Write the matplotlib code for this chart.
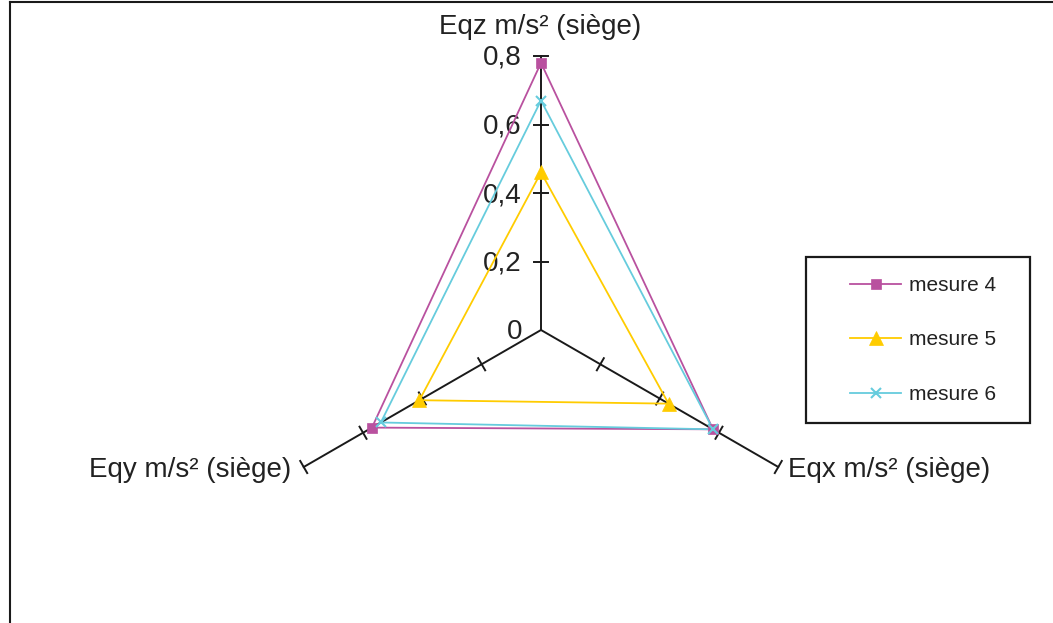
import numpy as np
import matplotlib
matplotlib.use("Agg")
import matplotlib.pyplot as plt
from matplotlib.lines import Line2D
from matplotlib.patches import Rectangle

plt.rcParams['font.family'] = ['Liberation Sans', 'DejaVu Sans']

axes_labels = ["Eqz m/s² (siège)", "Eqx m/s² (siège)", "Eqy m/s² (siège)"]
series_names = ["mesure 4", "mesure 5", "mesure 6"]
mesure4 = [0.78, 0.58, 0.57]
mesure5 = [0.46, 0.43, 0.41]
mesure6 = [0.67, 0.58, 0.54]
r_ticks = [0.0, 0.2, 0.4, 0.6, 0.8]
r_tick_labels = ["0", "0,2", "0,4", "0,6", "0,8"]
r_max = 0.8

colors = ["#B9519F", "#FFCC00", "#66CCDD"]
markers = ["s", "^", "x"]

W, H = 1053, 623
fig = plt.figure(figsize=(W / 100, H / 100), dpi=100)
ax = fig.add_axes([0, 0, 1, 1])
cx, cy = 541, 330          # centre in pixels (from top)
scale = 274 / r_max        # pixels per unit
ax.set_xlim(-cx / scale, (W - cx) / scale)
ax.set_ylim(-(H - cy) / scale, cy / scale)
ax.axis("off")

# angles: clockwise from north
angles = np.deg2rad([0, 120, 240])
ux = np.sin(angles)
uy = np.cos(angles)

def xy(vals):
    v = np.asarray(vals)
    return v * ux, v * uy

# spokes
tick_half = 7 / scale
for k in range(3):
    ax.plot([0, r_max * ux[k]], [0, r_max * uy[k]], color="#1a1a1a", lw=1.4, zorder=1)
    px, py = uy[k], -ux[k]  # perpendicular
    for t in r_ticks[1:]:
        x0, y0 = t * ux[k], t * uy[k]
        ax.plot([x0 - px * tick_half, x0 + px * tick_half],
                [y0 - py * tick_half, y0 + py * tick_half],
                color="#1a1a1a", lw=1.4, zorder=1)

# radial tick labels on top axis
for t, lab in zip(r_ticks, r_tick_labels):
    ax.text(-19 / scale, t - 2 / scale, lab, ha="right", va="center", fontsize=20,
            color="#222222")

# axis labels
ax.text(-1 / scale, (cy - 27) / scale, axes_labels[0], ha="center", va="center",
        fontsize=20, color="#222222")
ax.text((788 - cx) / scale, (cy - 470) / scale, axes_labels[1], ha="left", va="center",
        fontsize=20, color="#222222")
ax.text((291 - cx) / scale, (cy - 470) / scale, axes_labels[2], ha="right", va="center",
        fontsize=20, color="#222222")

series = [mesure4, mesure5, mesure6]
msizes = [7.5, 10, 7]
for vals, c, m, ms, name in zip(series, colors, markers, msizes, series_names):
    x, y = xy(vals)
    x = np.append(x, x[0])
    y = np.append(y, y[0])
    ax.plot(x, y, color=c, lw=1.3, zorder=3)
    ax.plot(x[:-1], y[:-1], linestyle="none", marker=m, color=c, markersize=ms,
            markeredgewidth=1.5 if m == "x" else 0.5, zorder=4, label=name)

# legend: entries without frame, frame drawn as a rectangle
handles = [Line2D([0], [0], color=c, lw=1.3, marker=m, markersize=ms,
                  markeredgewidth=1.5 if m == "x" else 0.5)
           for c, m, ms in zip(colors, markers, msizes)]
leg = fig.legend(handles, series_names, loc="upper left",
                 bbox_to_anchor=(850 / W, 1 - 276 / H), bbox_transform=fig.transFigure,
                 frameon=False, fontsize=15, handlelength=2.45,
                 labelspacing=1.7, borderpad=0, handletextpad=0.4,
                 borderaxespad=0)
for t in leg.get_texts():
    t.set_color("#222222")
fig.add_artist(Rectangle((806 / W, 1 - 423 / H), 224 / W, 166 / H,
                         transform=fig.transFigure, fill=False,
                         edgecolor="#1a1a1a", lw=1.6))

# outer chart border (top and left)
fig.add_artist(Line2D([10 / W, 1], [1 - 2 / H, 1 - 2 / H], transform=fig.transFigure,
                      color="#1a1a1a", lw=1.5))
fig.add_artist(Line2D([10 / W, 10 / W], [0, 1 - 2 / H], transform=fig.transFigure,
                      color="#1a1a1a", lw=1.5))

fig.savefig("out.png", dpi=100)
